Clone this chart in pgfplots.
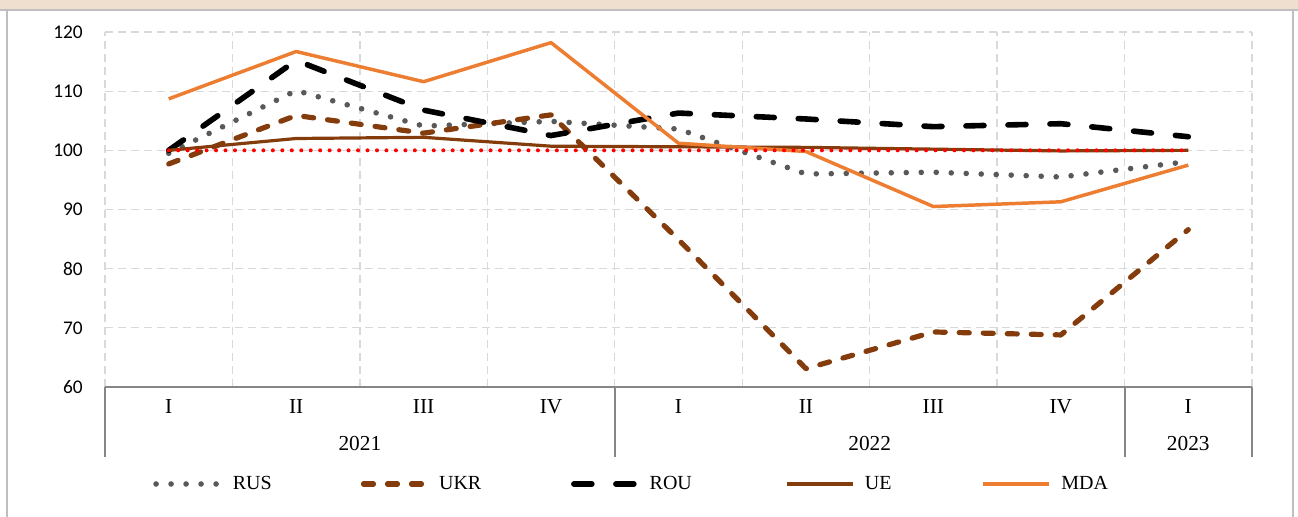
\documentclass[border=0pt]{standalone}
\usepackage{pgfplots}
\pgfplotsset{compat=1.18}
\usepackage{pgfplotstable}
\usepackage{fontspec}
\setmainfont{Liberation Serif}
\newfontfamily\tickfont{Carlito}
\definecolor{beige}{RGB}{239,223,207}
\definecolor{framegray}{RGB}{191,191,191}
\definecolor{gridgray}{RGB}{217,217,217}
\definecolor{axisgray}{RGB}{134,134,134}
\definecolor{rusgray}{RGB}{89,89,89}
\definecolor{ukrbrown}{RGB}{132,60,12}
\definecolor{mdaorange}{RGB}{237,125,49}

\pgfplotstableread{
x RUS UKR ROU UE MDA REF
1 99.5 97.7 100.0 100.0 108.7 100
2 110.1 105.9 115.2 102.0 116.7 100
3 104.1 102.9 106.8 102.2 111.6 100
4 104.9 106.0 102.5 100.7 118.2 100
5 103.6 84.9 106.3 100.6 101.2 100
6 96.0 63.1 105.3 100.5 99.8 100
7 96.3 69.3 104.0 100.2 90.5 100
8 95.5 68.8 104.5 99.9 91.3 100
9 98.1 86.6 102.3 100.0 97.5 100
}\data

\begin{document}
\begin{tikzpicture}
\path[use as bounding box] (0,0) rectangle (973.5pt,387.75pt);
\fill[beige] (0,380.25pt) rectangle (973.5pt,387.75pt);
\draw[framegray, line width=1.5pt] (0,380.25pt) -- (973.5pt,380.25pt);
\draw[framegray, line width=1.5pt] (5.25pt,0) -- (5.25pt,380.25pt);
\draw[framegray, line width=1.5pt] (969.75pt,0) -- (969.75pt,380.25pt);

\begin{axis}[
  at={(78.75pt,97.5pt)}, anchor=south west,
  scale only axis, width=860.25pt, height=266.25pt,
  xmin=0.5, xmax=9.5, ymin=60, ymax=120,
  axis line style={draw=none},
  xtick={1,...,9}, xticklabels={I,II,III,IV,I,II,III,IV,I},
  minor xtick={0.5,1.5,...,9.5},
  ytick={60,70,...,120},
  xminorgrids, ymajorgrids,
  major grid style={gridgray, line width=1pt, dash pattern=on 6pt off 3.75pt},
  minor grid style={gridgray, line width=1pt, dash pattern=on 6pt off 3.75pt},
  major tick length=0pt, minor tick length=0pt,
  tick style={draw=none},
  xticklabel style={anchor=base, inner sep=0pt, yshift=-20.25pt, font=\fontsize{16}{19}\selectfont},
  yticklabel style={anchor=east, inner sep=0pt, xshift=-16.5pt, font=\tickfont\fontsize{14.5}{17}\selectfont},
  /pgf/number format/assume math mode=true,
  clip=false,
  legend columns=5,
  legend cell align=left,
  legend style={at={(0.04185,-0.2732)}, anchor=west, draw=none, fill=none,
    inner sep=0pt, column sep=0pt, font=\fontsize{15}{18}\selectfont,
    nodes={inner sep=0pt}},
  legend image code/.code={\draw[#1] (0pt,0pt) -- (49.5pt,0pt);},
  line join=round,
]
\draw[axisgray, line width=1.5pt] (axis cs:0.5,60) -- (axis cs:9.5,60);
\draw[axisgray, line width=1.5pt] (axis cs:0.5,60) -- ([yshift=-52.5pt]axis cs:0.5,60);
\draw[axisgray, line width=1.5pt] (axis cs:4.5,60) -- ([yshift=-52.5pt]axis cs:4.5,60);
\draw[axisgray, line width=1.5pt] (axis cs:8.5,60) -- ([yshift=-52.5pt]axis cs:8.5,60);
\draw[axisgray, line width=1.5pt] (axis cs:9.5,60) -- ([yshift=-52.5pt]axis cs:9.5,60);
\node[anchor=base, font=\fontsize{16}{19}\selectfont] at ([yshift=-48pt]axis cs:2.5,60) {2021};
\node[anchor=base, font=\fontsize{16}{19}\selectfont] at ([yshift=-48pt]axis cs:6.5,60) {2022};
\node[anchor=base, font=\fontsize{16}{19}\selectfont] at ([yshift=-48pt]axis cs:9,60) {2023};

\addplot[rusgray, line width=4.2pt, line cap=round, dash pattern=on 0pt off 11.25pt] table[x=x,y=RUS]{\data};
\addlegendentry{\hspace{6pt}\makebox[96pt][l]{RUS}}
\addplot[ukrbrown, line width=3.9pt, line cap=round, dash pattern=on 7.5pt off 10.5pt] table[x=x,y=UKR]{\data};
\addlegendentry{\hspace{5.25pt}\makebox[99pt][l]{UKR}}
\addplot[black, line width=4.2pt, line cap=round, dash pattern=on 13.5pt off 18pt] table[x=x,y=ROU]{\data};
\addlegendentry{\hspace{5.25pt}\makebox[102pt][l]{ROU}}
\addplot[ukrbrown, line width=2.4pt] table[x=x,y=UE]{\data};
\addlegendentry{\hspace{7.5pt}\makebox[87pt][l]{UE}}
\addplot[mdaorange, line width=2.6pt] table[x=x,y=MDA]{\data};
\addlegendentry{\hspace{8.25pt}\makebox[60pt][l]{MDA}}
\addplot[red, line width=3pt, line cap=round, dash pattern=on 0pt off 7.1pt, forget plot] table[x=x,y=REF]{\data};
\end{axis}
\end{tikzpicture}
\end{document}
